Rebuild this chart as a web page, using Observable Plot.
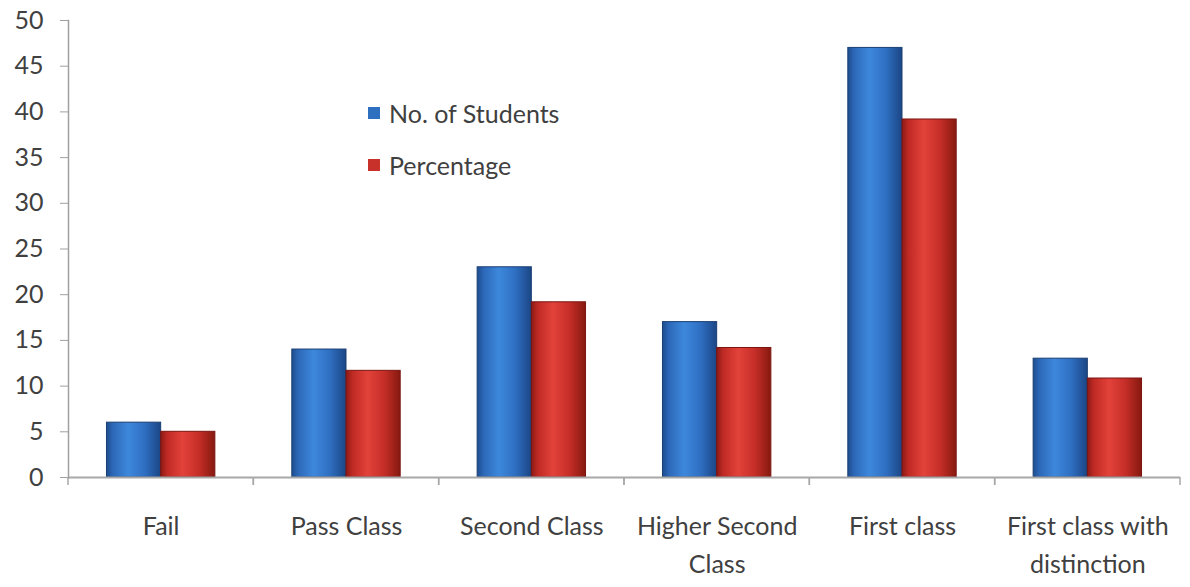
<!DOCTYPE html>
<html>
<head>
<meta charset="utf-8">
<script src="https://cdn.jsdelivr.net/npm/d3@7"></script>
<script src="https://cdn.jsdelivr.net/npm/@observablehq/plot@0.6"></script>
<style>
  html, body { margin: 0; padding: 0; background: #fff; }
  #wrap { position: relative; width: 1190px; height: 587px; overflow: hidden; }
  .legend { position: absolute; left: 368px; top: 96px; font-family: Lato, sans-serif; font-size: 25px; color: #404040; }
  .legend .item { display: flex; align-items: center; height: 34px; margin-bottom: 18px; }
  .legend .sw { width: 12px; height: 12px; margin-right: 9px; }
</style>
</head>
<body>
<div id="wrap"></div>
<script>
const categories = ["Fail", "Pass Class", "Second Class", "Higher Second Class", "First class", "First class with distinction"];
const categoryLabels = ["Fail", "Pass Class", "Second Class", "Higher Second\nClass", "First class", "First class with\ndistinction"];
const series = ["No. of Students", "Percentage"];
const students = [6, 14, 23, 17, 47, 13];
const percentage = [5, 11.67, 19.17, 14.17, 39.17, 10.83];
const yTicks = [0, 5, 10, 15, 20, 25, 30, 35, 40, 45, 50];
const seriesColors = ["#2f6fc0", "#c8302a"];

const data = categories.flatMap((c, i) => [
  {category: c, series: series[0], value: students[i]},
  {category: c, series: series[1], value: percentage[i]}
]);
const labelOf = new Map(categories.map((c, i) => [c, categoryLabels[i]]));

const defs = () => {
  const s = d3.create("svg:defs");
  const mk = (id, stops) => {
    const g = s.append("linearGradient").attr("id", id).attr("x1", "0").attr("x2", "1").attr("y1", "0").attr("y2", "0");
    stops.forEach(([o, c]) => g.append("stop").attr("offset", o).attr("stop-color", c));
  };
  mk("gBlue", [["0", "#1d4d8e"], ["0.12", "#2d68b8"], ["0.4", "#3d88dc"], ["0.7", "#2f6fc2"], ["1", "#1b4685"]]);
  mk("gRed", [["0", "#8c1a16"], ["0.12", "#bf2a24"], ["0.4", "#e2423a"], ["0.7", "#c62e28"], ["1", "#86190f"]]);
  return s.node();
};

// small boundary ticks below the x axis at each category edge
const edgeTicks = (index, scales, values, dimensions) => {
  const g = d3.create("svg:g").attr("stroke", "#a8a8a8").attr("stroke-width", 1.5);
  const y0 = scales.y(0);
  const left = dimensions.marginLeft;
  const right = dimensions.width - dimensions.marginRight;
  [left, right].forEach(x => g.append("line").attr("x1", x).attr("x2", x).attr("y1", y0).attr("y2", y0 + 8));
  return g.node();
};

const chart = Plot.plot({
  width: 1190,
  height: 587,
  marginLeft: 68,
  marginRight: 10,
  marginTop: 20,
  marginBottom: 110,
  style: {fontFamily: "Lato, sans-serif", fontSize: "25px", color: "#404040", background: "#fff"},
  fx: {domain: categories, padding: 0, round: false, axis: null, label: null},
  x: {domain: series, paddingInner: 0, paddingOuter: 0.71, round: false, axis: null, label: null},
  y: {domain: [0, 50], axis: null, label: null},
  marks: [
    defs,
    Plot.barY(data, {
      fx: "category", x: "series", y: "value",
      fill: d => d.series === series[0] ? "url(#gBlue)" : "url(#gRed)",
      stroke: d => d.series === series[0] ? "#1a3f73" : "#7a1512",
      strokeWidth: 1
    }),
    Plot.ruleY([0], {stroke: "#a8a8a8", strokeWidth: 2}),
    edgeTicks,
    Plot.frame({anchor: "left", facetAnchor: "left", stroke: "#a0a0a0", strokeWidth: 1.5}),
    Plot.axisY({ticks: yTicks, tickSize: 8, tickPadding: 17, stroke: "#a0a0a0", fill: "#404040", fontSize: 25, label: null}),
    Plot.axisFx({anchor: "bottom", tickSize: 0, tickPadding: 31, fontSize: 25, lineHeight: 1.5, fill: "#404040", tickFormat: d => labelOf.get(d), label: null})
  ]
});

const wrap = document.getElementById("wrap");
wrap.appendChild(chart);

const legend = document.createElement("div");
legend.className = "legend";
series.forEach((s, i) => {
  const item = document.createElement("div");
  item.className = "item";
  const sw = document.createElement("div");
  sw.className = "sw";
  sw.style.background = seriesColors[i];
  const t = document.createElement("span");
  t.textContent = s;
  item.appendChild(sw);
  item.appendChild(t);
  legend.appendChild(item);
});
wrap.appendChild(legend);
</script>
</body>
</html>
